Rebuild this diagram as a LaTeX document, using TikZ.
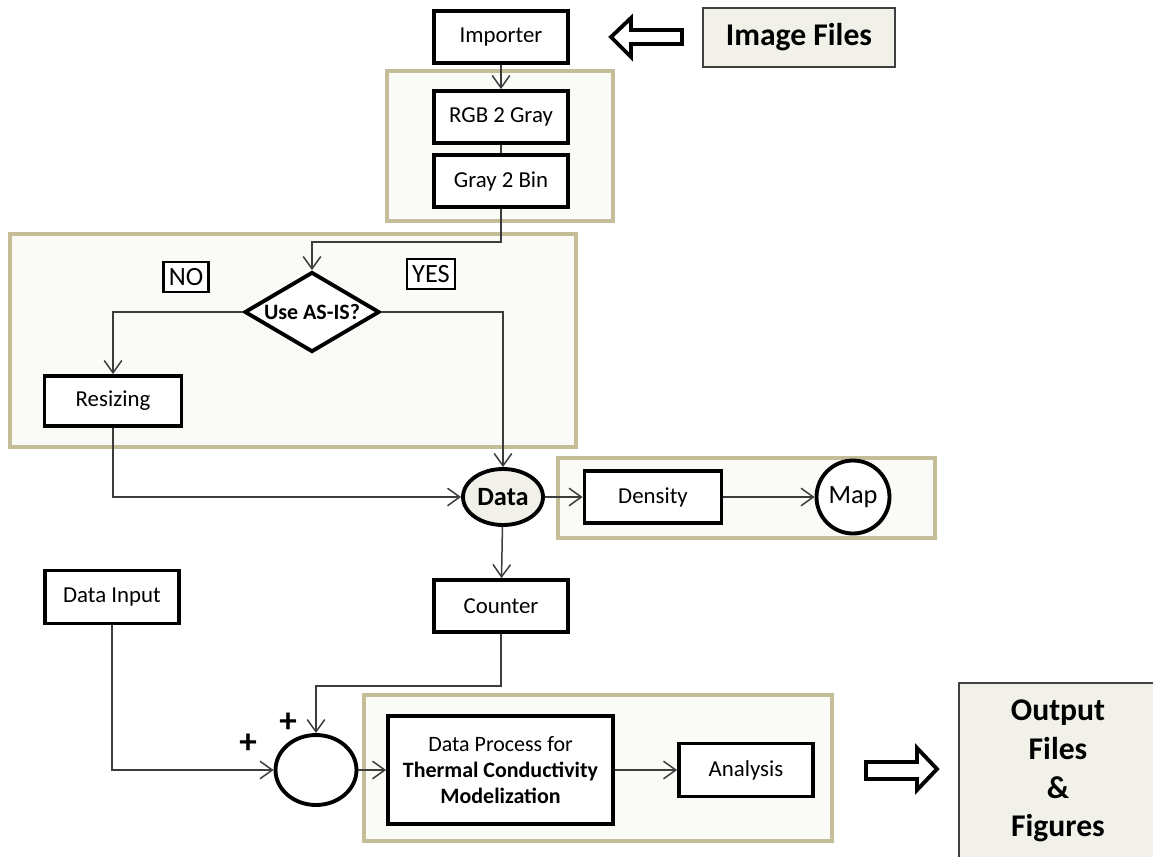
\documentclass[tikz,border=0pt]{standalone}
\usepackage{fontspec}
\setmainfont{Carlito}
\usepackage{tikz}
\usetikzlibrary{shapes.geometric, arrows.meta}
\definecolor{grouptan}{RGB}{196,189,151}
\definecolor{groupfill}{RGB}{250,250,247}
\definecolor{beigefill}{RGB}{242,241,233}
\definecolor{linkgray}{RGB}{60,60,60}

\begin{document}
\begin{tikzpicture}[x=0.02cm, y=-0.02cm,
  proc/.style={draw, line width=2.2pt, fill=white, minimum width=2.68cm,
               minimum height=1.04cm, align=center, font=\fontsize{13}{15}\selectfont},
  group/.style={draw=grouptan, line width=2.2pt, fill=groupfill},
  answer/.style={draw, line width=1.6pt, fill=white, inner sep=3pt,
                 minimum height=0.6cm, font=\fontsize{15}{17}\selectfont},
  filebox/.style={draw=black!75, line width=0.7pt, fill=beigefill, align=center,
                  font=\bfseries\fontsize{18}{22}\selectfont},
  hollow/.style={draw, line width=2.2pt, fill=white, line join=miter},
  link/.style={-{Straight Barb[length=7pt,width=10pt]}, line width=0.85pt, draw=linkgray},
  plain/.style={line width=0.85pt, draw=linkgray}
]
\useasboundingbox (0,0) rectangle (1153,856);

% group frames
\draw[group] (387,71) rectangle (613,221);
\draw[group] (10,234) rectangle (576,447);
\draw[group] (558,458) rectangle (935,538);
\draw[group] (364,695) rectangle (832,841);

% image import
\node[proc] (importer) at (501,37) {Importer};
\node[filebox, minimum width=3.84cm, minimum height=1.18cm] (imagefiles) at (799,37.5) {Image Files};
\draw[hollow] (611,37) -- (631,18) -- (631,30) -- (682,30) -- (682,44) -- (631,44) -- (631,57) -- cycle;

\node[proc] (rgb) at (501,117) {RGB 2 Gray};
\node[proc] (gray) at (501,181) {Gray 2 Bin};

% decision
\node[answer] (no) at (186,277) {NO};
\node[answer] (yes) at (431,274) {YES};
\node[draw, diamond, line width=2.2pt, fill=white, aspect=1.7, inner sep=0pt,
      minimum width=2.7cm, minimum height=1.6cm,
      font=\bfseries\fontsize{12.5}{14}\selectfont] (asis) at (312,312) {Use AS-IS?};
\node[proc, minimum width=2.74cm, minimum height=1.0cm] (resize) at (113,401) {Resizing};

% data and density map
\node[draw, ellipse, line width=2.2pt, fill=beigefill, minimum width=1.6cm, minimum height=1.12cm,
      inner sep=0pt, font=\bfseries\fontsize{15}{17}\selectfont] (data) at (503,497) {Data};
\node[proc, minimum width=2.74cm] (density) at (653,497) {Density};
\node[draw, circle, line width=2.2pt, fill=white, minimum size=1.46cm, inner sep=0pt,
      font=\fontsize{15}{17}\selectfont] (map) at (853,497) {Map};

\node[proc] (counter) at (501,606) {Counter};
\node[proc, minimum width=2.68cm, minimum height=1.06cm] (datainput) at (112,597) {Data Input};

% summation and processing
\node[draw, ellipse, line width=2.2pt, fill=white, minimum width=1.62cm, minimum height=1.4cm] (sum) at (316,770) {};
\node[font=\bfseries\fontsize{20}{20}\selectfont] (plusa) at (248,744) {+};
\node[font=\bfseries\fontsize{20}{20}\selectfont] (plusb) at (288,723) {+};
\node[proc, minimum width=4.5cm, minimum height=2.16cm, font=\fontsize{12.5}{15}\selectfont] (process) at (500.5,770)
  {Data Process for\\\textbf{Thermal Conductivity}\\\textbf{Modelization}};
\node[proc, minimum height=1.06cm] (analysis) at (746,770) {Analysis};

% output
\draw[hollow] (937,769) -- (917,748) -- (917,762) -- (866,762) -- (866,779) -- (917,779) -- (917,790) -- cycle;
\node[filebox, minimum width=3.96cm, minimum height=3.52cm] (output) at (1058,771)
  {Output\\Files\\\&\\Figures};

% connectors
\draw[link] (importer) -- (rgb);
\draw[plain] (rgb) -- (gray);
\draw[link] (gray.south) -- ++(0,33) -| (asis.north);
\draw[link] (asis.west) -| (resize.north);
\draw[link] (asis.east) -| (data.north);
\draw[link] (resize.south) |- (data.west);
\draw[link] (data) -- (density);
\draw[link] (density) -- (map);
\draw[link] (data) -- (counter);
\draw[link] (counter.south) -- ++(0,52) -| (sum.north);
\draw[link] (datainput.south) |- (sum.west);
\draw[link] (sum) -- (process);
\draw[link] (process) -- (analysis);
\end{tikzpicture}
\end{document}
